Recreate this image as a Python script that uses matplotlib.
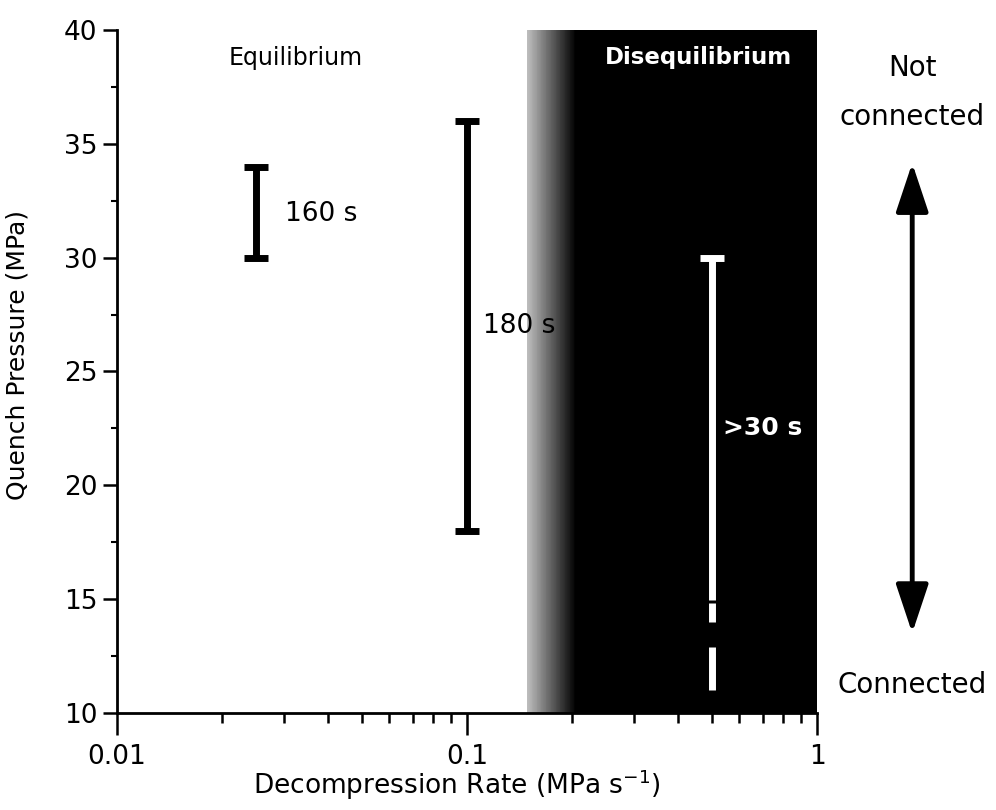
"""
Quench pressure vs decompression rate: equilibrium / disequilibrium regimes.
"""

import numpy as np
import matplotlib
matplotlib.use("Agg")
import matplotlib.pyplot as plt
from matplotlib.ticker import FixedLocator, LogLocator, MultipleLocator, NullFormatter

# ── Data ─────────────────────────────────────────────────────────
black_rates = [0.025, 0.1]          # MPa/s
black_low = [30, 18]                # MPa
black_high = [34, 36]               # MPa
black_labels = ["160 s", "180 s"]
black_label_pos = [(0.0302, 31.9), (0.111, 27.0)]

white_rate = 0.5
white_top = 30
white_seg_low = [14.96, 14.0, 11.0]
white_seg_high = [30.0, 14.83, 12.9]
white_label = ">30 s"
white_label_pos = (0.539, 22.5)

grad_start, grad_end = 0.148, 0.205   # fuzzy regime boundary
x_min, x_max = 0.01, 1
y_min, y_max = 10, 40
x_ticks = [0.01, 0.1, 1]
x_ticklabels = ["0.01", "0.1", "1"]


def main():
    fig = plt.figure(figsize=(9.96, 8.10), dpi=100)
    ax = fig.add_axes([0.1175, 0.1198, 0.7028, 0.8432])

    ax.set_xscale("log")
    ax.set_xlim(x_min, x_max)
    ax.set_ylim(y_min, y_max)

    # disequilibrium shading: grey ramp then solid black
    edges = np.geomspace(grad_start, grad_end, 61)
    greys = np.linspace(0.75, 0.0, len(edges) - 1)
    for a, b, g in zip(edges[:-1], edges[1:], greys):
        ax.axvspan(a, b * 1.002, color=str(g), lw=0, zorder=0)
    ax.axvspan(grad_end, x_max, color="black", lw=0, zorder=0)

    # black bars (equilibrium side)
    mid = [(lo + hi) / 2 for lo, hi in zip(black_low, black_high)]
    half = [(hi - lo) / 2 for lo, hi in zip(black_low, black_high)]
    ax.errorbar(black_rates, mid, yerr=half, fmt="none", ecolor="black",
                elinewidth=5, capsize=8.5, capthick=5, zorder=3)
    for txt, (x, y) in zip(black_labels, black_label_pos):
        ax.text(x, y, txt, ha="left", va="center", fontsize=19, color="black")

    # white bar (dashed toward the bottom)
    ax.vlines([white_rate] * len(white_seg_low), white_seg_low, white_seg_high,
              colors="white", lw=5, zorder=3)
    ax.plot([white_rate], [white_top], marker="_", ms=17, mew=5,
            color="white", zorder=3)
    ax.text(*white_label_pos, white_label, ha="left", va="center",
            fontsize=18, fontweight="bold", color="white")

    # regime labels
    ax.text(0.0323, 38.77, "Equilibrium", ha="center", va="center", fontsize=17)
    ax.text(0.457, 38.77, "Disequilibrium", ha="center", va="center",
            fontsize=16.5, fontweight="bold", color="white")

    # connectivity annotation outside the axes
    ax.text(1.136, 0.944, "Not", transform=ax.transAxes, ha="center",
            va="center", fontsize=20)
    ax.text(1.136, 0.873, "connected", transform=ax.transAxes, ha="center",
            va="center", fontsize=20)
    ax.text(1.136, 0.041, "Connected", transform=ax.transAxes, ha="center",
            va="center", fontsize=20)
    ax.annotate("", xy=(1.136, 0.805), xytext=(1.136, 0.117),
                xycoords="axes fraction", annotation_clip=False,
                arrowprops=dict(arrowstyle="<|-|>,head_length=1.5,head_width=0.5",
                                mutation_scale=20, lw=3.5, color="black",
                                shrinkA=0, shrinkB=0))

    # axes styling
    for s in ["top", "right"]:
        ax.spines[s].set_visible(False)
    for s in ["left", "bottom"]:
        ax.spines[s].set_linewidth(2)

    ax.xaxis.set_major_locator(FixedLocator(x_ticks))
    ax.set_xticklabels(x_ticklabels)
    ax.xaxis.set_minor_locator(LogLocator(base=10, subs=np.arange(2, 10)))
    ax.xaxis.set_minor_formatter(NullFormatter())
    ax.yaxis.set_major_locator(MultipleLocator(5))
    ax.yaxis.set_minor_locator(MultipleLocator(2.5))

    ax.tick_params(axis="x", which="major", direction="out", length=16,
                   width=1.8, labelsize=19, pad=6)
    ax.tick_params(axis="x", which="minor", direction="out", length=7, width=1.8)
    ax.tick_params(axis="y", which="major", direction="out", length=10,
                   width=1.8, labelsize=19, pad=4)
    ax.tick_params(axis="y", which="minor", direction="out", length=4, width=1.5)

    ax.set_xlabel("Decompression Rate (MPa s$^{\\mathregular{-1}}$)", fontsize=19)
    ax.set_ylabel("Quench Pressure (MPa)", fontsize=18)
    ax.xaxis.set_label_coords(0.486, -0.08)
    ax.yaxis.set_label_coords(-0.125, 0.524)

    fig.savefig("out.png", dpi=100)


if __name__ == "__main__":
    main()
